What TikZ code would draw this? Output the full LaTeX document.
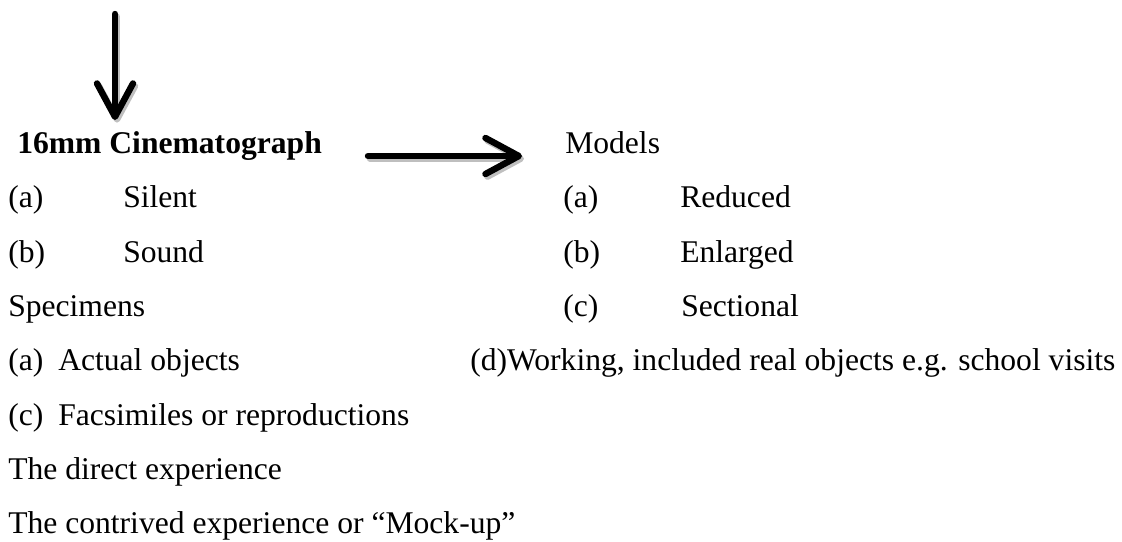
\documentclass[tikz,border=0pt]{standalone}
\usepackage{fontspec}
\setmainfont{Liberation Serif}
\usepackage{tikz}
\usetikzlibrary{arrows.meta,positioning}
\tikzstyle{entry}=[anchor=base west,inner sep=0pt,font=\fontsize{23.7}{28}\selectfont]
\tikzstyle{heading}=[entry,font=\fontsize{23.7}{28}\selectfont\bfseries]
\tikzstyle{bigarrow}=[line width=4.8pt,line cap=round,-{Straight Barb[length=25pt,width=27pt,round]}]
\tikzstyle{arrowshadow}=[bigarrow,draw=black!25,transform canvas={xshift=1.5pt,yshift=-2pt}]

\begin{document}
\begin{tikzpicture}[x=0.75pt,y=-0.75pt]
\useasboundingbox (0,0) rectangle (1122,542);
% left column
\node [heading] (cine) at (17,153) {16mm Cinematograph};
\node [entry] (ca) at (8,207) {(a)};
\node [entry] (silent) at (123,207) {Silent};
\node [entry] (cb) at (8,262) {(b)};
\node [entry] (sound) at (123,262) {Sound};
\node [entry] (spec) at (8,316) {Specimens};
\node [entry] (sa) at (8,370) {(a)};
\node [entry] (actual) at (58,370) {Actual objects};
\node [entry] (sc) at (8,425) {(c)};
\node [entry] (facs) at (58,425) {Facsimiles or reproductions};
\node [entry] (direct) at (8,479) {The direct experience};
\node [entry] (contrived) at (8,533) {The contrived experience or “Mock-up”};
% right column
\node [entry] (models) at (565,153) {Models};
\node [entry] (ma) at (563,207) {(a)};
\node [entry] (reduced) at (680,207) {Reduced};
\node [entry] (mb) at (563,262) {(b)};
\node [entry] (enlarged) at (680,262) {Enlarged};
\node [entry] (mc) at (563,316) {(c)};
\node [entry] (sectional) at (681,316) {Sectional};
\node [entry] (md) at (470,370) {(d)Working, included real objects e.g. school visits};
% arrows
\coordinate (downtop) at (115,14);
\coordinate (downtip) at (115,120);
\coordinate (rightstart) at (368,156);
\coordinate (righttip) at (522,156);
\draw [arrowshadow] (downtop) -- (downtip);
\draw [arrowshadow] (rightstart) -- (righttip);
\draw [bigarrow] (downtop) -- (downtip);
\draw [bigarrow] (rightstart) -- (righttip);
\end{tikzpicture}
\end{document}
